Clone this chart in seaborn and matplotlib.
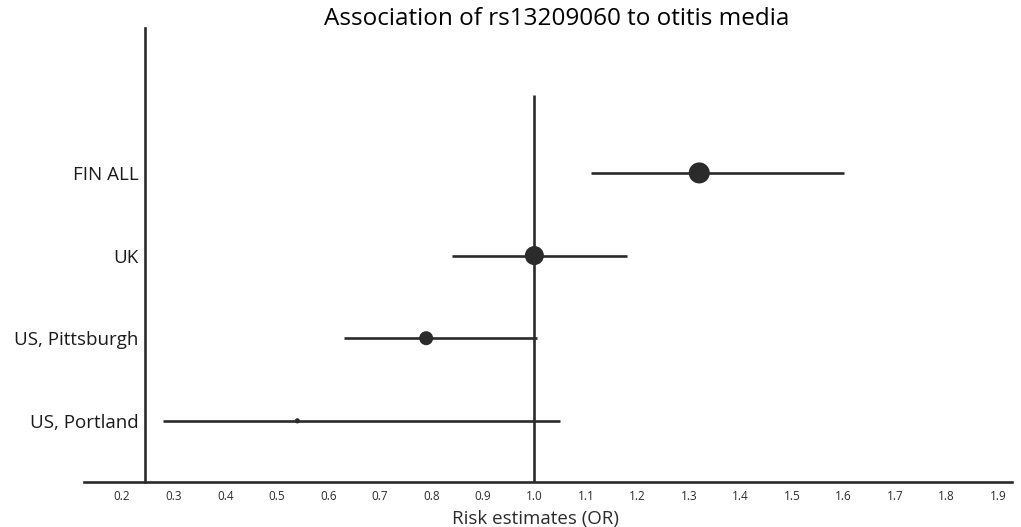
import numpy as np
import pandas as pd
import seaborn as sns
import matplotlib.pyplot as plt

# values
studies = ['FIN ALL', 'UK', 'US, Pittsburgh', 'US, Portland']
odds_ratio = [1.32, 1.00, 0.79, 0.54]
ci_low = [1.11, 0.84, 0.63, 0.28]
ci_high = [1.60, 1.18, 1.005, 1.05]
study_weight = [1.0, 0.82, 0.44, 0.06]
x_ticks = [0.2, 0.3, 0.4, 0.5, 0.6, 0.7, 0.8, 0.9, 1.0, 1.1, 1.2, 1.3, 1.4, 1.5, 1.6, 1.7, 1.8, 1.9]

ink = '#2b2b2b'
lw = 1.9

sns.set_theme(style='white')
plt.rcParams['font.family'] = ['Open Sans', 'DejaVu Sans']

df = pd.DataFrame({'study': studies, 'OR': odds_ratio, 'lo': ci_low,
                   'hi': ci_high, 'w': study_weight})
df['pos'] = np.arange(len(df))[::-1]

fig = plt.figure(figsize=(10.21, 5.27), dpi=100)
ax = fig.add_axes([0.0823, 0.0854, 0.9089, 0.8615])

# left spine sits inside the x range; set it first since it resets the ticks
for s in ['top', 'right']:
    ax.spines[s].set_visible(False)
ax.spines['left'].set_position(('data', 0.245))
for s in ['left', 'bottom']:
    ax.spines[s].set_color(ink)
    ax.spines[s].set_linewidth(lw)

# confidence intervals
ax.hlines(df['pos'], df['lo'], df['hi'], color=ink, lw=lw, zorder=2)
# null line
ax.vlines(1.0, -0.74, 3.94, color=ink, lw=lw, zorder=1)

sns.scatterplot(data=df, x='OR', y='pos', size='w', sizes=(0, 230),
                size_norm=(0, 1), color=ink, edgecolor=ink, linewidth=0,
                legend=False, ax=ax, zorder=3)

ax.set_xlim(0.126, 1.927)
ax.set_ylim(-0.74, 4.754)
ax.set_xticks(x_ticks)
ax.set_xticklabels([f'{t:.1f}' for t in x_ticks])
ax.set_yticks(df['pos'])
ax.set_yticklabels(df['study'])
ax.tick_params(axis='both', length=0, colors=ink)
ax.tick_params(axis='x', pad=6, labelsize=8.5)
ax.tick_params(axis='y', pad=5, labelsize=13.5, labelcolor='#1a1a1a')

ax.set_xlabel('Risk estimates (OR)', fontsize=13.5, color=ink)
ax.xaxis.set_label_coords(0.487, -0.062)
ax.set_ylabel('')
fig.text(557 / 1021, 1 - 19 / 527, 'Association of rs13209060 to otitis media',
         ha='center', va='center', fontsize=17.5, color='black')

fig.savefig('out.png', dpi=100)
